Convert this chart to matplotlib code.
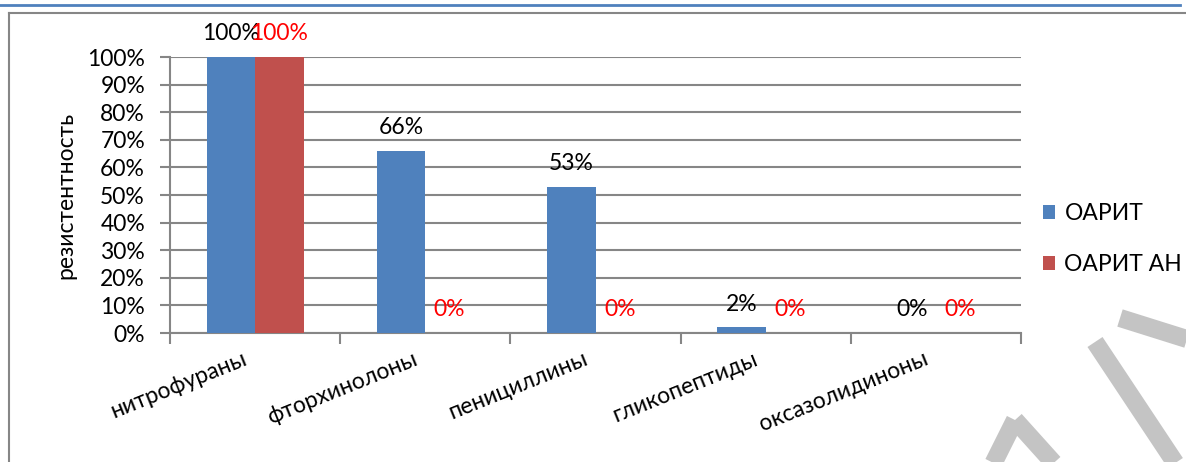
import matplotlib.pyplot as plt
import matplotlib.transforms as mtransforms
from matplotlib.lines import Line2D
import numpy as np

plt.rcParams['font.family'] = ['Lato', 'DejaVu Sans']

categories = ['нитрофураны', 'фторхинолоны', 'пенициллины', 'гликопептиды', 'оксазолидиноны']
oarit = [100, 66, 53, 2, 0]
oarit_an = [100, 0, 0, 0, 0]
series_names = ['ОАРИТ', 'ОАРИТ АН']
yticks = [0, 10, 20, 30, 40, 50, 60, 70, 80, 90, 100]

W, H = 1186, 462
fig = plt.figure(figsize=(W / 100, H / 100), dpi=100)
ax = fig.add_axes([170 / W, 1 - 333 / H, (1021 - 170) / W, (333 - 57) / H])

blue = '#4F81BD'
red = '#C0504D'
grid_c = '#868686'
fs = 16.5
x = np.arange(len(categories))
bw = 0.285

b1 = ax.bar(x - bw / 2, oarit, bw, color=blue, label=series_names[0], zorder=3)
b2 = ax.bar(x + bw / 2, oarit_an, bw, color=red, label=series_names[1], zorder=3)

for rect, v in zip(b1, oarit):
    ax.annotate(f'{v}%', (rect.get_x() + rect.get_width() / 2, v), xytext=(0, 9),
                textcoords='offset points', ha='center', va='bottom', fontsize=fs, color='black')
for rect, v in zip(b2, oarit_an):
    ax.annotate(f'{v}%', (rect.get_x() + rect.get_width() / 2, v), xytext=(0, 9),
                textcoords='offset points', ha='center', va='bottom', fontsize=fs, color='#FF0000')

ax.set_xlim(-0.5, len(categories) - 0.5)
ax.set_ylim(0, 100)
ax.set_yticks(yticks)
ax.set_yticklabels([f'{t}%' for t in yticks], fontsize=fs)
ax.yaxis.grid(True, color=grid_c, lw=1.5, zorder=0)
ax.tick_params(axis='y', length=7, width=1.5, color=grid_c, pad=11)

ax.set_xticks(np.arange(len(categories) + 1) - 0.5)
ax.set_xticklabels([])
ax.tick_params(axis='x', length=8, width=1.5, color=grid_c)
ax.set_xticks(x, minor=True)
ax.set_xticklabels(categories, minor=True, rotation=22, ha='right', va='top',
                   rotation_mode='anchor', fontsize=fs)
ax.tick_params(axis='x', which='minor', length=0, pad=11)
shift = mtransforms.ScaledTranslation(-13 / 100, 0, fig.dpi_scale_trans)
for lab in ax.get_xticklabels(minor=True):
    lab.set_transform(lab.get_transform() + shift)

for s in ['top', 'right']:
    ax.spines[s].set_visible(False)
for s in ['left', 'bottom']:
    ax.spines[s].set_color(grid_c)
    ax.spines[s].set_linewidth(1.5)

ax.set_ylabel('резистентность', fontsize=fs, labelpad=8)

fig.legend(loc='center left', bbox_to_anchor=(1022 / W, 1 - 239 / H), frameon=False,
           fontsize=fs, handlelength=0.55, handleheight=0.55, handletextpad=0.4,
           labelspacing=1.3)

# outer frame like the source document
def px(x0, y0, x1, y1, **kw):
    fig.add_artist(Line2D([x0 / W, x1 / W], [1 - y0 / H, 1 - y1 / H],
                          transform=fig.transFigure, **kw))

px(0, 5, 1180, 5, color=blue, lw=2)
px(9, 13, W, 13, color=grid_c, lw=1.5)
px(9, 13, 9, H, color=grid_c, lw=1.5)

# watermark strokes
wm = dict(color='#C4C4C4', lw=13, solid_capstyle='butt', zorder=0)
px(1120, 318, 1190, 340, **wm)
px(1095, 342, 1180, 470, **wm)
px(1015, 420, 1060, 470, **wm)
px(1015, 420, 990, 470, **wm)

fig.savefig('out.png', dpi=100)
